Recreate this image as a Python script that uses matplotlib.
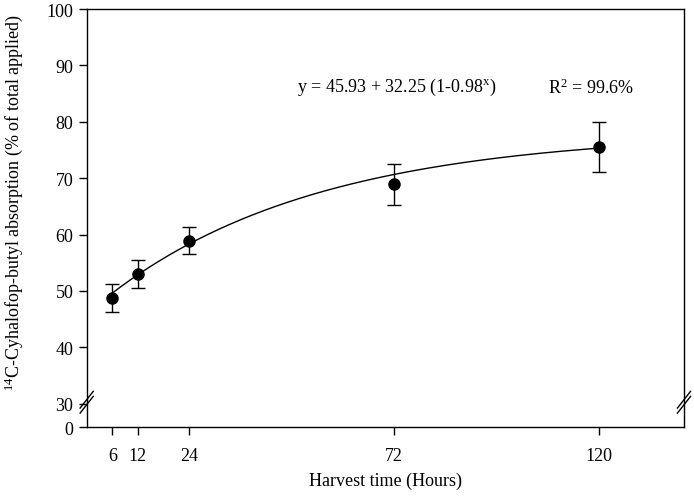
import numpy as np
import matplotlib
matplotlib.use('Agg')
import matplotlib.pyplot as plt

plt.rcParams['font.family'] = 'Liberation Serif'
plt.rcParams['mathtext.fontset'] = 'custom'
plt.rcParams['mathtext.rm'] = 'Liberation Serif'
plt.rcParams['mathtext.it'] = 'Liberation Serif:italic'

# harvest times (hours) and absorption (% of total applied)
hours = [6, 12, 24, 72, 120]
absorption = [48.7, 53.0, 58.9, 69.0, 75.6]
err_low = [46.3, 50.6, 56.5, 65.3, 71.1]
err_high = [51.2, 55.4, 61.3, 72.5, 80.0]

# fitted model y = a + b (1 - c^x)
fit_a = 45.93
fit_b = 32.25
fit_c = 0.98

x_ticks = [6, 12, 24, 72, 120]
y_ticks = [30, 40, 50, 60, 70, 80, 90, 100]
y_bottom = 25.8  # where "0" sits below the axis break

fig = plt.figure(figsize=(6.94, 5.02), dpi=100)
ax = fig.add_axes([0.1249, 0.1468, 0.8607, 0.8332])

yerr = [np.array(absorption) - np.array(err_low), np.array(err_high) - np.array(absorption)]
ax.errorbar(hours, absorption, yerr=yerr, fmt='o', color='black', markersize=8,
            capsize=5, elinewidth=1, capthick=1, zorder=3)

xs = np.linspace(hours[0], hours[-1], 300)
ax.plot(xs, fit_a + fit_b * (1 - fit_c ** xs), color='black', lw=1)

ax.set_xlim(0, 140)
ax.set_ylim(y_bottom, 100)
ax.set_xticks(x_ticks)
ax.set_xticklabels([str(t) for t in x_ticks])
ax.set_yticks([y_bottom] + y_ticks)
ax.set_yticklabels(['0'] + [str(t) for t in y_ticks])
ax.tick_params(direction='out', length=6, width=1, labelsize=13, colors='black')
ax.tick_params(axis='x', pad=8)
for s in ax.spines.values():
    s.set_linewidth(1)

# axis break marks on both sides
for xpos in [0, 1]:
    for dy in [-1.0, 1.0]:
        ax.plot([xpos - 0.011, xpos + 0.011], [0.06 + dy * 0.006 - 0.02, 0.06 + dy * 0.006 + 0.02],
                transform=ax.transAxes, color='black', lw=1, clip_on=False)

ax.set_xlabel('Harvest time (Hours)', fontsize=13, labelpad=6)
ax.set_ylabel('$^{14}$C-Cyhalofop-butyl absorption (% of total applied)', fontsize=13)
ax.yaxis.set_label_coords(-0.103, 0.539)

ax.text(49.3, 86.2, 'y = 45.93 + 32.25 (1-0.98$^{\\rm x}$)', fontsize=13, va='center')
ax.text(108.2, 86.2, 'R$^2$ = 99.6%', fontsize=13, va='center')

fig.savefig('out.png', dpi=100)
